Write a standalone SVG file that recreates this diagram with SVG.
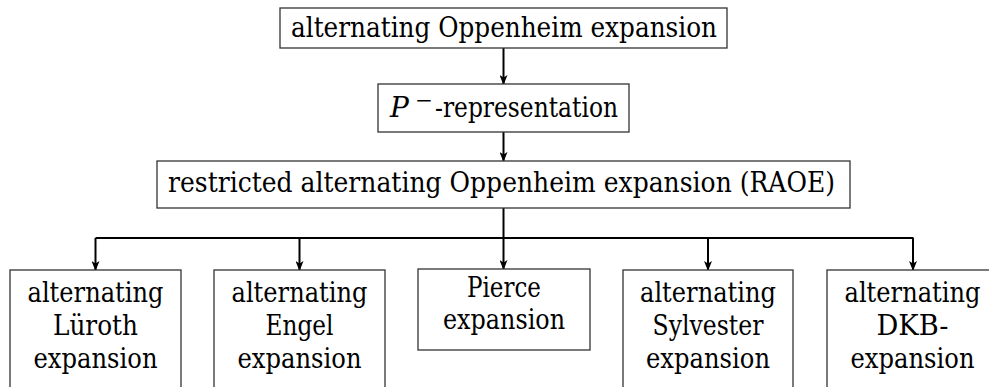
<svg xmlns="http://www.w3.org/2000/svg" width="989" height="387" viewBox="0 0 989 387">
<style>
.box{fill:#fff;stroke:#333;stroke-width:1.3}
.t{font-family:'DejaVu Serif',serif;font-size:27px;fill:#000;text-anchor:middle}
.c{fill:none;stroke:#000;stroke-width:2}
</style>
<defs>
<marker id="arr" viewBox="0 0 10 8" refX="9" refY="4" markerWidth="10" markerHeight="8" markerUnits="userSpaceOnUse" orient="auto">
<path d="M0,0 L10,4 L0,8 L2.5,4 z" fill="#000"/>
</marker>
</defs>
<rect width="989" height="387" fill="#fff"/>
<g id="connectors">
<path class="c" d="M503.5,48 V84" marker-end="url(#arr)"/>
<path class="c" d="M503.5,132 V161" marker-end="url(#arr)"/>
<path class="c" d="M503.5,208 V238"/>
<path class="c" d="M95.5,238 H913.5"/>
<path class="c" d="M95.5,238 V270" marker-end="url(#arr)"/>
<path class="c" d="M299.5,238 V270" marker-end="url(#arr)"/>
<path class="c" d="M503.5,238 V269" marker-end="url(#arr)"/>
<path class="c" d="M708,238 V270" marker-end="url(#arr)"/>
<path class="c" d="M913,238 V270" marker-end="url(#arr)"/>
</g>
<g id="n-aoe">
<rect class="box" x="280" y="8" width="447" height="40"/>
<text class="t" x="504" y="37" textLength="426" lengthAdjust="spacingAndGlyphs">alternating Oppenheim expansion</text>
</g>
<g id="n-pminus">
<rect class="box" x="378" y="84" width="251" height="48"/>
<text class="t" x="390" y="117" style="text-anchor:start;font-style:italic;font-size:28px">P</text>
<text class="t" x="415" y="107" style="text-anchor:start;font-size:20px" textLength="18" lengthAdjust="spacingAndGlyphs">−</text>
<text class="t" x="435" y="117" style="text-anchor:start" textLength="183" lengthAdjust="spacingAndGlyphs">-representation</text>
</g>
<g id="n-raoe">
<rect class="box" x="157" y="161" width="693" height="47"/>
<text class="t" x="501.5" y="192" textLength="667" lengthAdjust="spacingAndGlyphs">restricted alternating Oppenheim expansion (RAOE)</text>
</g>
<g id="n-luroth">
<rect class="box" x="10" y="270" width="171" height="130"/>
<text class="t" x="95.5" y="302" textLength="136" lengthAdjust="spacingAndGlyphs">alternating</text>
<text class="t" x="95.5" y="335" textLength="85" lengthAdjust="spacingAndGlyphs">Lüroth</text>
<text class="t" x="95.5" y="368" textLength="124" lengthAdjust="spacingAndGlyphs">expansion</text>
</g>
<g id="n-engel">
<rect class="box" x="214" y="270" width="171" height="130"/>
<text class="t" x="299.5" y="302" textLength="136" lengthAdjust="spacingAndGlyphs">alternating</text>
<text class="t" x="299.5" y="335" textLength="68" lengthAdjust="spacingAndGlyphs">Engel</text>
<text class="t" x="299.5" y="368" textLength="124" lengthAdjust="spacingAndGlyphs">expansion</text>
</g>
<g id="n-pierce">
<rect class="box" x="418" y="269" width="172" height="81"/>
<text class="t" x="504" y="297" textLength="74" lengthAdjust="spacingAndGlyphs">Pierce</text>
<text class="t" x="504" y="329" textLength="122" lengthAdjust="spacingAndGlyphs">expansion</text>
</g>
<g id="n-sylvester">
<rect class="box" x="623" y="270" width="170" height="130"/>
<text class="t" x="708" y="302" textLength="136" lengthAdjust="spacingAndGlyphs">alternating</text>
<text class="t" x="708" y="335" textLength="111" lengthAdjust="spacingAndGlyphs">Sylvester</text>
<text class="t" x="708" y="368" textLength="124" lengthAdjust="spacingAndGlyphs">expansion</text>
</g>
<g id="n-dkb">
<rect class="box" x="827" y="270" width="171" height="130"/>
<text class="t" x="912.5" y="302" textLength="136" lengthAdjust="spacingAndGlyphs">alternating</text>
<text class="t" x="912.5" y="335" textLength="72" lengthAdjust="spacingAndGlyphs">DKB-</text>
<text class="t" x="912.5" y="368" textLength="124" lengthAdjust="spacingAndGlyphs">expansion</text>
</g>
</svg>
